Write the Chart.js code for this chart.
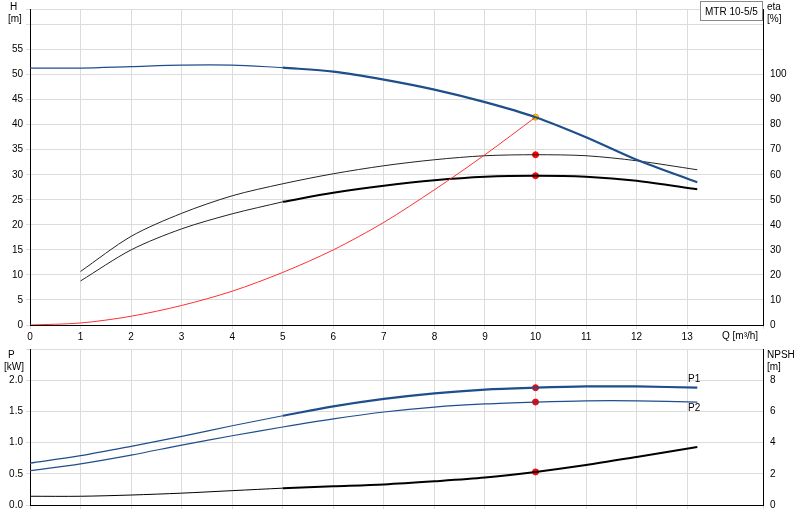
<!DOCTYPE html>
<html><head><meta charset="utf-8">
<script src="https://cdn.jsdelivr.net/npm/chart.js@4"></script>
<style>
body{margin:0;background:#fff;font-family:Arial,"Liberation Sans",sans-serif}
canvas{position:absolute;left:0}
#top{top:0}#bot{top:340px}
</style></head><body>
<canvas id="top" width="800" height="345"></canvas>
<canvas id="bot" width="800" height="180"></canvas>
<script>
// Q values [m³/h]
const qFull = [0,1,2,3,4,5,6,7,8,9,10,11,12,13.2];
const headAll = [51.3,51.3,51.6,51.9,51.9,51.4,50.6,49,47,44.5,41.5,37.5,33,28.5];
const etaQ = [0,1,2,3,4,5,6,7,8,9,10];
const etaPct = [0,0.8,3.5,7.8,13.5,21,30,41,54,68,83];
const qEff = [1,2,3,4,5,6,7,8,9,10,11,12,13.2];
const effUpper = [10.7,17.7,22.3,25.8,28.2,30.2,31.8,33,33.8,34,33.8,32.8,31];
const effLower = [8.8,15,19.2,22.2,24.6,26.4,27.8,28.9,29.6,29.8,29.6,28.8,27.1];
const p1 = [0.67,0.79,0.94,1.1,1.27,1.43,1.58,1.7,1.79,1.85,1.88,1.9,1.9,1.88];
const p2 = [0.55,0.66,0.8,0.96,1.11,1.25,1.38,1.49,1.57,1.62,1.65,1.67,1.67,1.65];
const npsh = [0.56,0.56,0.64,0.76,0.92,1.08,1.2,1.32,1.52,1.76,2.12,2.56,3.08,3.72];
const dutyQ = 10;

const blue = '#1f4e8c', grid = '#dcdcdc', font = {family:'Arial', size:10};
const pts = (xs, ys) => xs.map((x, i) => ({x, y: ys[i]}));
const split = (xs, ys, from, to) => pts(xs, ys).filter(p => p.x >= from && p.x <= to);
const at = (xs, ys) => ys[xs.indexOf(dutyQ)];
const line = (data, color, w, axis='y') => ({type:'line', data, borderColor:color, borderWidth:w, pointRadius:0, tension:0.3, yAxisID:axis});
const dot = (y, color, axis='y') => ({type:'scatter', data:[{x:dutyQ, y}], backgroundColor:color, borderColor:color==='#ffd400'?'#e89000':'#ff0000', pointRadius:3, yAxisID:axis});

function texts(list) {
  return {id:'texts', afterDraw(c) {
    const ctx = c.ctx; ctx.save(); ctx.font = '10px Arial'; ctx.fillStyle = '#000';
    list.forEach(t => { ctx.textAlign = t.a || 'left'; ctx.fillText(t.s, t.x, t.y); });
    if (c.canvas.id === 'top') {
      ctx.strokeStyle = '#888'; ctx.fillStyle = '#fff';
      ctx.fillRect(700, 1, 62, 19); ctx.strokeRect(700.5, 1.5, 62, 19);
      ctx.fillStyle = '#000'; ctx.textAlign = 'left'; ctx.fillText('MTR 10-5/5', 705, 15);
    }
    ctx.restore();
  }};
}
const widthFix = w => s => { s.width = w; };
const xScale = (h, show) => ({type:'linear', min:0, max:14.5, afterFit: s => { s.height = h; },
  grid:{color:grid, drawTicks:true, tickLength:4}, border:{color:'#000'},
  ticks:{stepSize:1, display:show, color:'#000', font, maxRotation:0, padding:2,
    callback: v => v <= 13 && Number.isInteger(v) ? v : ''}});

new Chart(document.getElementById('top'), {
  data:{datasets:[
    line(split(qFull, headAll, 0, 5), blue, 1.2),
    line(split(qFull, headAll, 5, 14), blue, 2.2),
    line(pts(etaQ, etaPct), '#ff3030', 1, 'eta'),
    line(pts(qEff, effUpper), '#222', 1),
    line(split(qEff, effLower, 0, 5), '#222', 1),
    line(split(qEff, effLower, 5, 14), '#000', 2),
    dot(at(qEff, effUpper), '#ff0000'),
    dot(at(qEff, effLower), '#ff0000'),
    dot(at(qFull, headAll), '#ffd400')
  ]},
  options:{responsive:false, animation:false, layout:{padding:0},
    plugins:{legend:{display:false}, tooltip:{enabled:false}},
    scales:{
      x: xScale(20, true),
      y:{min:0, max:63.1, afterFit: widthFix(30), grid:{color:grid, tickLength:4}, border:{color:'#000'},
        ticks:{stepSize:5, color:'#000', font, callback: v => v <= 55 ? v : ''}},
      eta:{position:'right', min:0, max:126.2, afterFit: widthFix(37), grid:{display:false, tickLength:4}, border:{color:'#000'},
        ticks:{stepSize:10, color:'#000', font, callback: v => v <= 100 ? v : ''}}
    }},
  plugins:[texts([{s:'H', x:10, y:10}, {s:'[m]', x:8, y:22}, {s:'eta', x:767, y:10}, {s:'[%]', x:767, y:22},
    {s:'Q [m³/h]', x:722, y:339}])]
});

new Chart(document.getElementById('bot'), {
  data:{datasets:[
    line(split(qFull, p1, 0, 5), blue, 1.2),
    line(split(qFull, p1, 5, 14), blue, 2.2),
    line(pts(qFull, p2), blue, 1.2),
    line(split(qFull, npsh, 0, 5), '#000', 1, 'n'),
    line(split(qFull, npsh, 5, 14), '#000', 2, 'n'),
    dot(at(qFull, p1), '#ff0000'),
    dot(at(qFull, p2), '#ff0000'),
    dot(at(qFull, npsh), '#ff0000', 'n')
  ]},
  options:{responsive:false, animation:false, layout:{padding:{top:5}},
    plugins:{legend:{display:false}, tooltip:{enabled:false}},
    scales:{
      x: xScale(15, false),
      y:{min:0, max:2.5, afterFit: widthFix(30), grid:{color:grid, tickLength:4}, border:{color:'#000'},
        ticks:{stepSize:0.5, color:'#000', font, callback: v => v <= 2 ? v.toFixed(1) : ''}},
      n:{position:'right', min:0, max:10, afterFit: widthFix(37), grid:{display:false, tickLength:4}, border:{color:'#000'},
        ticks:{stepSize:2, color:'#000', font, callback: v => v <= 8 ? v : ''}}
    }},
  plugins:[texts([{s:'P', x:8, y:18}, {s:'[kW]', x:4, y:30}, {s:'NPSH', x:767, y:18}, {s:'[m]', x:767, y:30},
    {s:'P1', x:688, y:42}, {s:'P2', x:688, y:71}])]
});
</script></body></html>
